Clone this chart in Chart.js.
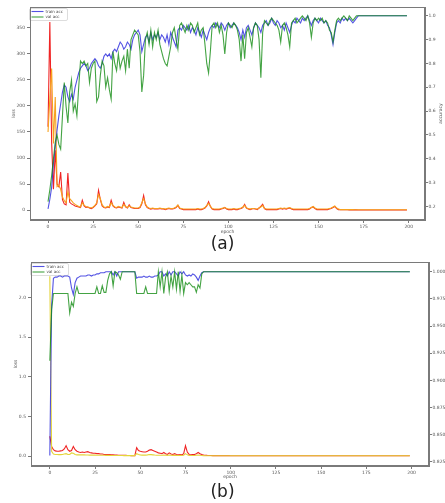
<!DOCTYPE html>
<html>
<head>
<meta charset="utf-8">
<script src="https://cdn.jsdelivr.net/npm/chart.js@4.4.0/dist/chart.umd.min.js"></script>
<style>
  html, body { margin: 0; padding: 0; background: #fff; }
  body { width: 445px; height: 503px; position: relative; overflow: hidden; }
  canvas { position: absolute; left: 0; }
  #chartA { top: 0; }
  #chartB { top: 250px; }
  .caption { position: absolute; left: 0; width: 445px; text-align: center;
             font-family: 'DejaVu Sans', sans-serif; font-size: 17px; color: #222; line-height: 20px; }
</style>
</head>
<body>
<canvas id="chartA" width="445" height="235"></canvas>
<div class="caption" style="top:233px">(a)</div>
<canvas id="chartB" width="445" height="230"></canvas>
<div class="caption" style="top:481px">(b)</div>
<script>
// tick labels
const epochTicks = [0, 25, 50, 75, 100, 125, 150, 175, 200];
const lossTicksA = [0, 50, 100, 150, 200, 250, 300, 350];
const accTicksA = [0.2, 0.3, 0.4, 0.5, 0.6, 0.7, 0.8, 0.9, 1.0];
const lossTicksB = [0.0, 0.5, 1.0, 1.5, 2.0];
const accTicksB = [0.825, 0.85, 0.875, 0.9, 0.925, 0.95, 0.975, 1.0];

// (a) values per epoch
const trainAccA = [
  0.19, 0.23, 0.28, 0.38, 0.45, 0.52, 0.58, 0.63, 0.68, 0.71,
  0.70, 0.66, 0.64, 0.67, 0.65, 0.70, 0.73, 0.76, 0.78, 0.79,
  0.80, 0.79, 0.77, 0.78, 0.80, 0.81, 0.82, 0.81, 0.79, 0.78,
  0.80, 0.83, 0.84, 0.83, 0.84, 0.82, 0.85, 0.86, 0.85, 0.87,
  0.89, 0.88, 0.86, 0.87, 0.89, 0.88, 0.86, 0.90, 0.92, 0.93,
  0.94, 0.92, 0.85, 0.88, 0.91, 0.92, 0.89, 0.93, 0.90, 0.92,
  0.91, 0.93, 0.90, 0.92, 0.91, 0.89, 0.92, 0.88, 0.93, 0.91,
  0.89, 0.87, 0.94, 0.95, 0.94, 0.96, 0.95, 0.94, 0.96, 0.93,
  0.95, 0.94, 0.92, 0.95, 0.93, 0.91, 0.94, 0.92, 0.90, 0.93,
  0.95, 0.96, 0.95, 0.97, 0.96, 0.95, 0.97, 0.96, 0.94, 0.96,
  0.97, 0.95, 0.96, 0.97, 0.96, 0.95, 0.93, 0.90, 0.94, 0.91,
  0.95, 0.96, 0.94, 0.92, 0.95, 0.97, 0.96, 0.95, 0.93, 0.96,
  0.97, 0.98, 0.96, 0.97, 0.99, 0.97, 0.96, 0.98, 0.97, 0.95,
  0.96, 0.94, 0.97, 0.95, 0.93, 0.96, 0.98, 0.97, 0.99, 0.98,
  0.97, 0.99, 0.98, 0.99, 1.00, 0.98, 0.96, 0.98, 0.99, 0.98,
  0.97, 0.99, 0.98, 0.97, 0.98, 0.96, 0.95, 0.92, 0.88, 0.93,
  0.97, 0.98, 0.97, 0.99, 0.98, 0.99, 0.98, 0.99, 0.98, 0.97,
  0.98, 0.99, 1.00, 1.00, 1.00, 1.00, 1.00, 1.00, 1.00, 1.00,
  1.00, 1.00, 1.00, 1.00, 1.00, 1.00, 1.00, 1.00, 1.00, 1.00,
  1.00, 1.00, 1.00, 1.00, 1.00, 1.00, 1.00, 1.00, 1.00, 1.00
];
const valAccA = [
  0.22, 0.27, 0.33, 0.40, 0.47, 0.50, 0.46, 0.44, 0.58, 0.72,
  0.62, 0.55, 0.68, 0.73, 0.60, 0.63, 0.58, 0.70, 0.81, 0.80,
  0.81, 0.79, 0.80, 0.72, 0.78, 0.80, 0.81, 0.64, 0.66, 0.75,
  0.81, 0.79, 0.70, 0.74, 0.69, 0.65, 0.85, 0.80, 0.77, 0.84,
  0.78, 0.81, 0.83, 0.77, 0.86, 0.78, 0.90, 0.92, 0.94, 0.93,
  0.92, 0.85, 0.68, 0.75, 0.90, 0.93, 0.88, 0.94, 0.87, 0.93,
  0.90, 0.94, 0.88, 0.85, 0.82, 0.80, 0.79, 0.83, 0.87, 0.93,
  0.95, 0.90, 0.86, 0.96, 0.97, 0.95, 0.93, 0.96, 0.94, 0.97,
  0.96, 0.93, 0.95, 0.97, 0.92, 0.94, 0.95, 0.88, 0.80, 0.76,
  0.85, 0.96, 0.97, 0.95, 0.97, 0.93, 0.96, 0.92, 0.84, 0.93,
  0.97, 0.96, 0.95, 0.97, 0.96, 0.94, 0.90, 0.81, 0.92, 0.82,
  0.93, 0.95, 0.91, 0.87, 0.95, 0.97, 0.96, 0.90, 0.74, 0.93,
  0.98, 0.97, 0.96, 0.98, 0.99, 0.98, 0.97, 0.96, 0.94, 0.89,
  0.96, 0.97, 0.95, 0.92, 0.87, 0.97, 0.98, 0.99, 0.97, 0.98,
  0.99, 1.00, 0.99, 0.98, 1.00, 0.97, 0.91, 0.97, 0.99, 0.98,
  0.99, 0.98, 0.99, 0.97, 0.98, 0.97, 0.94, 0.93, 0.89, 0.94,
  0.98, 0.99, 0.98, 0.99, 1.00, 0.99, 0.98, 1.00, 0.99, 0.98,
  0.99, 1.00, 1.00, 1.00, 1.00, 1.00, 1.00, 1.00, 1.00, 1.00,
  1.00, 1.00, 1.00, 1.00, 1.00, 1.00, 1.00, 1.00, 1.00, 1.00,
  1.00, 1.00, 1.00, 1.00, 1.00, 1.00, 1.00, 1.00, 1.00, 1.00
];
const trainLossA = [
  160, 361, 130, 40, 115, 50, 45, 73, 20, 12,
  10, 71, 15, 12, 10, 8, 7, 6, 5, 19,
  8, 5, 6, 4, 3, 5, 8, 12, 38, 20,
  8, 5, 4, 6, 5, 19, 8, 5, 4, 6,
  5, 4, 15, 6, 4, 10, 5, 4, 3, 3,
  3, 5, 12, 28, 10, 5, 3, 2, 3, 2,
  2, 2, 3, 2, 2, 1, 2, 3, 2, 2,
  3, 5, 9, 3, 2, 1, 1, 1, 1, 1,
  1, 1, 1, 2, 1, 1, 2, 4, 8, 16,
  7, 2, 1, 1, 1, 1, 2, 3, 5, 2,
  1, 1, 1, 2, 1, 1, 2, 3, 5, 11,
  4, 2, 1, 2, 3, 2, 1, 4, 7, 11,
  3, 1, 1, 1, 1, 1, 1, 1, 2, 3,
  2, 3, 2, 3, 4, 2, 1, 1, 1, 1,
  1, 1, 1, 1, 1, 2, 5, 6, 3, 1,
  1, 1, 1, 1, 1, 1, 2, 3, 5, 7,
  3, 1, 1, 1, 1, 1, 1, 0.5, 0.5, 0.5,
  0.4, 0.4, 0.3, 0.3, 0.3, 0.3, 0.3, 0.3, 0.3, 0.3,
  0.3, 0.3, 0.3, 0.3, 0.3, 0.3, 0.3, 0.3, 0.3, 0.3,
  0.3, 0.3, 0.3, 0.3, 0.3, 0.3, 0.3, 0.3, 0.3, 0.3
];
const valLossA = [
  150, 215, 272, 128, 217, 45, 48, 40, 25, 18,
  14, 35, 22, 18, 14, 11, 9, 7, 6, 14,
  9, 7, 6, 5, 4, 6, 9, 14, 30, 22,
  10, 6, 5, 7, 6, 14, 9, 6, 5, 7,
  6, 5, 11, 7, 5, 8, 6, 5, 4, 4,
  4, 6, 14, 22, 12, 6, 4, 3, 4, 3,
  3, 3, 4, 3, 3, 2, 3, 4, 3, 3,
  4, 6, 10, 4, 3, 2, 2, 2, 2, 2,
  2, 2, 2, 3, 2, 2, 3, 5, 9, 13,
  8, 3, 2, 2, 2, 2, 3, 4, 5, 3,
  2, 2, 2, 3, 2, 2, 3, 4, 6, 9,
  4, 3, 2, 3, 3, 2, 2, 4, 6, 9,
  3, 2, 2, 2, 2, 2, 2, 2, 3, 4,
  3, 4, 3, 4, 5, 3, 2, 2, 2, 2,
  2, 2, 2, 2, 2, 3, 5, 7, 4, 2,
  2, 2, 2, 2, 2, 2, 3, 4, 6, 8,
  4, 2, 1, 1, 1, 1, 1, 1, 1, 1,
  0.8, 0.8, 0.7, 0.7, 0.7, 0.7, 0.7, 0.7, 0.7, 0.7,
  0.7, 0.7, 0.7, 0.7, 0.7, 0.7, 0.7, 0.7, 0.7, 0.7,
  0.7, 0.7, 0.7, 0.7, 0.7, 0.7, 0.7, 0.7, 0.7, 0.7
];

// (b) values per epoch
const trainAccB = [
  0.831, 0.969, 0.994, 0.995, 0.995, 0.996, 0.996, 0.995, 0.996, 0.996,
  0.996, 0.995, 0.985, 0.979, 0.990, 0.994, 0.995, 0.996, 0.996, 0.996,
  0.996, 0.997, 0.997, 0.996, 0.997, 0.997, 0.998, 0.998, 0.999, 0.999,
  0.999, 1, 1, 1, 1, 0.997, 1, 0.996, 1, 1,
  1, 1, 1, 1, 1, 1, 1, 1, 0.994, 0.995,
  0.995, 0.995, 0.996, 0.995, 0.995, 0.996, 0.995, 0.995, 0.996, 0.996,
  0.997, 1, 1, 0.996, 0.998, 0.996, 1, 0.997, 1, 1,
  0.998, 0.996, 1, 0.998, 1, 0.997, 0.996, 0.997, 0.996, 0.998,
  0.997, 0.995, 0.992, 0.996, 0.999, 1, 1, 1, 1, 1,
  1, 1, 1, 1, 1, 1, 1, 1, 1, 1,
  1, 1, 1, 1, 1, 1, 1, 1, 1, 1,
  1, 1, 1, 1, 1, 1, 1, 1, 1, 1,
  1, 1, 1, 1, 1, 1, 1, 1, 1, 1,
  1, 1, 1, 1, 1, 1, 1, 1, 1, 1,
  1, 1, 1, 1, 1, 1, 1, 1, 1, 1,
  1, 1, 1, 1, 1, 1, 1, 1, 1, 1,
  1, 1, 1, 1, 1, 1, 1, 1, 1, 1,
  1, 1, 1, 1, 1, 1, 1, 1, 1, 1,
  1, 1, 1, 1, 1, 1, 1, 1, 1, 1,
  1, 1, 1, 1, 1, 1, 1, 1, 1, 1
];
const valAccB = [
  0.918, 0.965, 0.980, 0.980, 0.980, 0.980, 0.980, 0.980, 0.980, 0.980,
  0.980, 0.962, 0.972, 0.968, 0.980, 0.986, 0.980, 0.980, 0.980, 0.980,
  0.980, 0.980, 0.980, 0.980, 0.980, 0.980, 0.986, 0.980, 0.980, 0.987,
  0.981, 0.981, 0.992, 0.998, 1, 0.987, 1, 0.999, 0.997, 0.993,
  1, 1, 1, 1, 1, 1, 1, 1, 0.980, 0.980,
  0.980, 0.980, 0.980, 0.986, 0.980, 0.980, 0.980, 0.980, 0.980, 0.980,
  1, 0.986, 1, 0.980, 0.995, 1, 0.982, 0.996, 0.986, 1,
  0.984, 1, 0.982, 0.997, 0.980, 0.990, 0.988, 0.990, 0.988, 0.986,
  0.986, 0.981, 0.988, 0.985, 0.998, 1, 1, 1, 1, 1,
  1, 1, 1, 1, 1, 1, 1, 1, 1, 1,
  1, 1, 1, 1, 1, 1, 1, 1, 1, 1,
  1, 1, 1, 1, 1, 1, 1, 1, 1, 1,
  1, 1, 1, 1, 1, 1, 1, 1, 1, 1,
  1, 1, 1, 1, 1, 1, 1, 1, 1, 1,
  1, 1, 1, 1, 1, 1, 1, 1, 1, 1,
  1, 1, 1, 1, 1, 1, 1, 1, 1, 1,
  1, 1, 1, 1, 1, 1, 1, 1, 1, 1,
  1, 1, 1, 1, 1, 1, 1, 1, 1, 1,
  1, 1, 1, 1, 1, 1, 1, 1, 1, 1,
  1, 1, 1, 1, 1, 1, 1, 1, 1, 1
];
const trainLossB = [
  0.25, 0.12, 0.08, 0.065, 0.06, 0.06, 0.065, 0.07, 0.09, 0.13,
  0.08, 0.06, 0.07, 0.12, 0.08, 0.06, 0.05, 0.045, 0.05, 0.045,
  0.05, 0.055, 0.045, 0.04, 0.035, 0.035, 0.03, 0.03, 0.025, 0.025,
  0.02, 0.02, 0.02, 0.018, 0.015, 0.015, 0.012, 0.012, 0.01, 0.01,
  0.01, 0.008, 0.008, 0.006, 0.006, 0.005, 0.005, 0.005, 0.105, 0.07,
  0.06, 0.055, 0.05, 0.05, 0.06, 0.075, 0.08, 0.07, 0.06, 0.05,
  0.04, 0.035, 0.03, 0.045, 0.03, 0.02, 0.04, 0.025, 0.02, 0.03,
  0.02, 0.015, 0.02, 0.015, 0.03, 0.13, 0.05, 0.02, 0.015, 0.02,
  0.02, 0.03, 0.045, 0.03, 0.02, 0.013, 0.01, 0.008, 0.007, 0.006,
  0.005, 0.005, 0.005, 0.005, 0.005, 0.005, 0.005, 0.005, 0.005, 0.005,
  0.004, 0.004, 0.004, 0.004, 0.004, 0.004, 0.004, 0.004, 0.004, 0.004,
  0.004, 0.004, 0.004, 0.004, 0.004, 0.004, 0.004, 0.004, 0.004, 0.004,
  0.004, 0.004, 0.004, 0.004, 0.004, 0.003, 0.003, 0.003, 0.003, 0.003,
  0.003, 0.003, 0.003, 0.003, 0.003, 0.003, 0.003, 0.003, 0.003, 0.003,
  0.003, 0.003, 0.003, 0.003, 0.003, 0.003, 0.003, 0.003, 0.003, 0.003,
  0.003, 0.003, 0.003, 0.003, 0.003, 0.003, 0.003, 0.003, 0.003, 0.003,
  0.003, 0.003, 0.003, 0.003, 0.003, 0.003, 0.003, 0.003, 0.003, 0.003,
  0.003, 0.003, 0.003, 0.003, 0.003, 0.003, 0.003, 0.003, 0.003, 0.003,
  0.003, 0.003, 0.003, 0.003, 0.003, 0.003, 0.003, 0.003, 0.003, 0.003,
  0.003, 0.003, 0.003, 0.003, 0.003, 0.003, 0.003, 0.003, 0.003, 0.003
];
const valLossB = [
  2.27, 0.06, 0.025, 0.02, 0.02, 0.018, 0.018, 0.02, 0.025, 0.03,
  0.02, 0.02, 0.04, 0.035, 0.02, 0.015, 0.015, 0.015, 0.014, 0.014,
  0.013, 0.013, 0.012, 0.012, 0.011, 0.011, 0.01, 0.01, 0.01, 0.009,
  0.009, 0.008, 0.008, 0.008, 0.007, 0.007, 0.007, 0.006, 0.006, 0.006,
  0.006, 0.005, 0.005, 0.005, 0.005, 0.005, 0.005, 0.005, 0.03, 0.02,
  0.015, 0.012, 0.012, 0.012, 0.015, 0.02, 0.018, 0.015, 0.012, 0.01,
  0.01, 0.009, 0.009, 0.012, 0.01, 0.008, 0.012, 0.009, 0.008, 0.01,
  0.008, 0.007, 0.008, 0.007, 0.01, 0.03, 0.015, 0.008, 0.007, 0.007,
  0.007, 0.01, 0.012, 0.009, 0.007, 0.005, 0.004, 0.004, 0.003, 0.003,
  0.003, 0.003, 0.003, 0.003, 0.003, 0.003, 0.003, 0.003, 0.003, 0.003,
  0.003, 0.003, 0.003, 0.003, 0.003, 0.003, 0.003, 0.003, 0.003, 0.003,
  0.003, 0.003, 0.003, 0.003, 0.003, 0.003, 0.003, 0.003, 0.003, 0.003,
  0.003, 0.003, 0.003, 0.003, 0.003, 0.003, 0.003, 0.003, 0.003, 0.003,
  0.003, 0.003, 0.003, 0.003, 0.003, 0.003, 0.003, 0.003, 0.003, 0.003,
  0.003, 0.003, 0.003, 0.003, 0.003, 0.003, 0.003, 0.003, 0.003, 0.003,
  0.003, 0.003, 0.003, 0.003, 0.003, 0.003, 0.003, 0.003, 0.003, 0.003,
  0.003, 0.003, 0.003, 0.003, 0.003, 0.003, 0.003, 0.003, 0.003, 0.003,
  0.003, 0.003, 0.003, 0.003, 0.003, 0.003, 0.003, 0.003, 0.003, 0.003,
  0.003, 0.003, 0.003, 0.003, 0.003, 0.003, 0.003, 0.003, 0.003, 0.003,
  0.003, 0.003, 0.003, 0.003, 0.003, 0.003, 0.003, 0.003, 0.003, 0.003
];

// colours
const blue = 'rgba(40, 40, 220, 0.8)';
const green = 'rgba(20, 140, 20, 0.8)';
const red = '#f02424';
const orange = '#f7a21e';
const yellow = '#e4d43a';
const axisColor = '#7a7a7a';
const textColor = '#555';
const tinyFont = { family: 'DejaVu Sans', size: 4.5 };

// epoch index -> {x, y}
function points(values) {
  return values.map((v, i) => ({ x: i, y: v }));
}

// put the axis ticks at the listed values only
function fixedTicks(list) {
  return axis => { axis.ticks = list.map(v => ({ value: v })); };
}

// legend inside the plot, box round plot and legend, right-hand label
const framePlugin = {
  id: 'frame',
  afterLayout(chart) {
    // a 'chartArea' legend starts at y=0, move it down into the plot
    const lg = chart.legend;
    if (!lg) return;
    const dy = chart.chartArea.top + 1 - lg.top;
    lg.top += dy;
    lg.bottom += dy;
    lg.legendHitBoxes.forEach(b => { b.top += dy; });
  },
  beforeDraw(chart) {
    const lg = chart.legend;
    if (!lg || !lg.legendHitBoxes || !lg.legendHitBoxes.length) return;
    const boxes = lg.legendHitBoxes;
    const l = Math.min(...boxes.map(b => b.left)) - 3;
    const t = Math.min(...boxes.map(b => b.top)) - 1.5;
    const r = Math.max(...boxes.map(b => b.left + b.width)) + 4;
    const btm = Math.max(...boxes.map(b => b.top + b.height)) + 1;
    const ctx = chart.ctx;
    ctx.save();
    ctx.fillStyle = '#fff';
    ctx.strokeStyle = '#d4d4d4';
    ctx.lineWidth = 0.8;
    ctx.beginPath();
    ctx.roundRect(Math.round(l) + 0.5, Math.round(t) + 0.5, Math.round(r - l), Math.round(btm - t), 1.5);
    ctx.fill();
    ctx.stroke();
    ctx.restore();
  },
  afterDraw(chart, args, opts) {
    const a = chart.chartArea;
    const ctx = chart.ctx;
    ctx.save();
    ctx.strokeStyle = axisColor;
    ctx.lineWidth = 1;
    ctx.strokeRect(Math.round(a.left) + 0.5, Math.round(a.top) + 0.5,
                   Math.round(a.right - a.left) - 1, Math.round(a.bottom - a.top) - 1);
    // matplotlib writes the twin-axis label bottom to top
    ctx.translate(opts.labelX, (a.top + a.bottom) / 2);
    ctx.rotate(-Math.PI / 2);
    ctx.font = '4.5px "DejaVu Sans"';
    ctx.fillStyle = textColor;
    ctx.textAlign = 'center';
    ctx.textBaseline = 'middle';
    ctx.fillText('accuracy', 0, 0);
    ctx.restore();
  }
};

function lineSet(label, values, axisId, color, order, width) {
  return {
    label: label,
    data: points(values),
    yAxisID: axisId,
    borderColor: color,
    backgroundColor: color,
    borderWidth: width,
    pointRadius: 0,
    tension: 0,
    order: order
  };
}

function makeChart(canvasId, cfg) {
  const ctx = document.getElementById(canvasId).getContext('2d');
  return new Chart(ctx, {
    type: 'line',
    data: {
      datasets: [
        lineSet('train acc', cfg.trainAcc, 'y1', blue, 1, 1.1),
        lineSet('val acc', cfg.valAcc, 'y1', green, 0, 1.1),
        lineSet('train loss', cfg.trainLoss, 'y', red, 3, 1.1),
        lineSet('val loss', cfg.valLoss, 'y', cfg.valLossColor, 2, 1.1)
      ]
    },
    options: {
      responsive: false,
      animation: false,
      events: [],
      layout: { padding: { top: cfg.padTop, left: 0, right: 0, bottom: 0 } },
      plugins: {
        tooltip: { enabled: false },
        frame: { labelX: cfg.accLabelX },
        legend: {
          position: 'chartArea',
          align: 'start',
          labels: {
            font: { family: 'DejaVu Sans', size: 4 },
            color: '#444',
            usePointStyle: true,
            pointStyle: 'line',
            pointStyleWidth: 12,
            boxHeight: 4,
            padding: 1.5,
            filter: item => item.datasetIndex < 2,
            sort: (a, b) => a.datasetIndex - b.datasetIndex
          }
        }
      },
      scales: {
        x: {
          type: 'linear',
          bounds: 'data',
          min: cfg.xMin,
          max: cfg.xMax,
          afterBuildTicks: fixedTicks(epochTicks),
          afterFit: axis => { axis.height = cfg.xHeight; },
          grid: { drawOnChartArea: false, tickLength: 3, color: axisColor },
          border: { color: axisColor },
          ticks: { font: tinyFont, color: textColor, padding: 1, maxRotation: 0, autoSkip: false,
                   callback: v => String(v) },
          title: { display: true, text: 'epoch', font: tinyFont, color: textColor, padding: 0 }
        },
        y: {
          type: 'linear',
          position: 'left',
          bounds: 'data',
          min: cfg.lossMin,
          max: cfg.lossMax,
          afterBuildTicks: fixedTicks(cfg.lossTicks),
          afterFit: axis => { axis.width = cfg.leftWidth; },
          grid: { drawOnChartArea: false, tickLength: 3, color: axisColor },
          border: { color: axisColor },
          ticks: { font: tinyFont, color: textColor, padding: 2, autoSkip: false,
                   callback: v => v.toFixed(cfg.lossDigits) },
          title: { display: true, text: 'loss', font: tinyFont, color: textColor,
                   padding: { top: cfg.lossTitlePad, bottom: 0 } }
        },
        y1: {
          type: 'linear',
          position: 'right',
          bounds: 'data',
          min: cfg.accMin,
          max: cfg.accMax,
          afterBuildTicks: fixedTicks(cfg.accTicks),
          afterFit: axis => { axis.width = cfg.rightWidth; },
          grid: { drawOnChartArea: false, tickLength: 3, color: axisColor },
          border: { color: axisColor },
          ticks: { font: tinyFont, color: textColor, padding: 0.5, autoSkip: false,
                   callback: v => v.toFixed(cfg.accDigits) }
        }
      }
    },
    plugins: [framePlugin]
  });
}

// (a)
makeChart('chartA', {
  trainAcc: trainAccA, valAcc: valAccA, trainLoss: trainLossA, valLoss: valLossA,
  valLossColor: orange,
  padTop: 7, xHeight: 15, leftWidth: 30, rightWidth: 20,
  xMin: -10, xMax: 209,
  lossMin: -19, lossMax: 390, lossTicks: lossTicksA, lossDigits: 0, lossTitlePad: 11,
  accMin: 0.143, accMax: 1.037, accTicks: accTicksA, accDigits: 1, accLabelX: 440.5
});

// (b)
makeChart('chartB', {
  trainAcc: trainAccB, valAcc: valAccB, trainLoss: trainLossB, valLoss: valLossB,
  valLossColor: yellow,
  padTop: 12, xHeight: 14, leftWidth: 31, rightWidth: 16,
  xMin: -10.4, xMax: 209.6,
  lossMin: -0.126, lossMax: 2.451, lossTicks: lossTicksB, lossDigits: 1, lossTitlePad: 13,
  accMin: 0.8213, accMax: 1.0089, accTicks: accTicksB, accDigits: 3, accLabelX: 447
});
</script>
</body>
</html>
